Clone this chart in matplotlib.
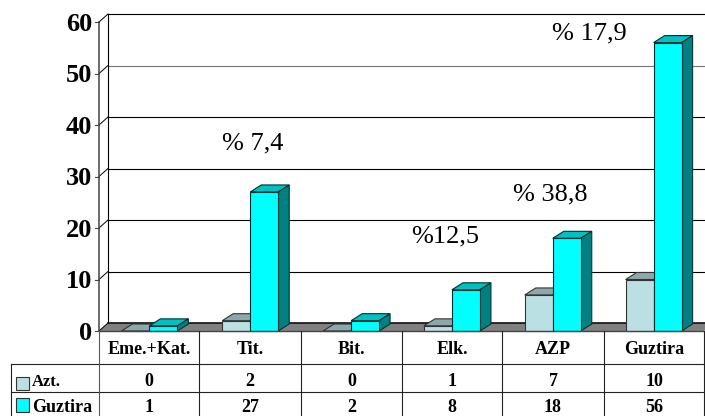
import matplotlib
matplotlib.use("Agg")
import matplotlib.pyplot as plt
from matplotlib.patches import Polygon, Rectangle

plt.rcParams['font.family'] = ['Liberation Serif', 'DejaVu Serif']

categories = ['Eme.+Kat.', 'Tit.', 'Bit.', 'Elk.', 'AZP', 'Guztira']
azt = [0, 2, 0, 1, 7, 10]
guztira = [1, 27, 2, 8, 18, 56]
yticks = [0, 10, 20, 30, 40, 50, 60]
notes = ['% 7,4', '%12,5', '% 38,8', '% 17,9']

W, H = 705, 416
fig = plt.figure(figsize=(W / 100, H / 100), dpi=100)

# page axes in pixels, used for the table and the free text
page = fig.add_axes([0, 0, 1, 1])
page.set_xlim(0, W)
page.set_ylim(H, 0)
page.axis('off')

# plot area in data units
L, R, B, T = 99, 704, 331, 22
ax = fig.add_axes([L / W, 1 - B / H, (R - L) / W, (B - T) / H])
ax.set_xlim(0, 6)
ax.set_ylim(0, 60)
ax.axis('off')
ax.patch.set_visible(False)

# depth of the fake 3d, in data units
wall_dx = 9 / ((R - L) / 6)
wall_dy = 8 / ((B - T) / 60)
bar_dx = 11 / ((R - L) / 6)
bar_dy = 7 / ((B - T) / 60)
bar_w = 28 / ((R - L) / 6)


def poly(pts, color, edge='black', lw=0.8, z=2):
    ax.add_patch(Polygon(pts, closed=True, facecolor=color, edgecolor=edge,
                         linewidth=lw, zorder=z, clip_on=False))


# floor
poly([(0, 0), (6, 0), (6 + wall_dx, wall_dy), (wall_dx, wall_dy)], '#808080', 'none', 0, 1)
ax.plot([wall_dx, 6.05], [wall_dy, wall_dy], color='#111111', lw=1.2, zorder=1.5, clip_on=False)

# back wall grid and left wall
for v in yticks[1:]:
    c = '#777777' if v == 50 else 'black'
    ax.plot([wall_dx, 6.05], [v + wall_dy, v + wall_dy], color=c, lw=0.8, zorder=1, clip_on=False)
for v in yticks:
    ax.plot([0, wall_dx], [v, v + wall_dy], color='black', lw=0.7, zorder=1, clip_on=False)
    ax.plot([-4 / ((R - L) / 6), 0], [v, v], color='#444444', lw=0.8, zorder=1, clip_on=False)
    ax.text(-7 / ((R - L) / 6), v, str(v), ha='right', va='center_baseline', fontsize=19,
            fontweight='bold', clip_on=False)
ax.plot([wall_dx, wall_dx], [wall_dy, 60 + wall_dy], color='black', lw=0.8, zorder=1, clip_on=False)
ax.plot([0, 0], [0, 60], color='#444444', lw=1.1, zorder=1.5, clip_on=False)
ax.plot([0, 6], [0, 0], color='#444444', lw=1.0, zorder=3, clip_on=False)


def bar3d(x, v, front, top, side, edge):
    poly([(x, v), (x + bar_w, v), (x + bar_w + bar_dx, v + bar_dy), (x + bar_dx, v + bar_dy)], top, edge)
    poly([(x + bar_w, 0), (x + bar_w + bar_dx, bar_dy), (x + bar_w + bar_dx, v + bar_dy), (x + bar_w, v)], side, edge)
    ax.bar(x, v, bar_w, align='edge', color=front, edgecolor=edge, linewidth=0.8, zorder=2.5, clip_on=False)


for i in range(len(categories)):
    bar3d(i + 0.5 - bar_w, azt[i], '#BBE0E3', '#8CA8AB', '#6F8F92', '#333333')
    bar3d(i + 0.5, guztira[i], '#00FFFF', '#00C0C0', '#008080', '#003333')

# table
col_x = [99, 199, 301, 402, 502, 604, 704]
row_y = [331, 364, 392, 416]
key_left = 11
line = '#222222'
page.plot([key_left, col_x[-1]], [row_y[1], row_y[1]], color=line, lw=0.8)
page.plot([key_left, col_x[-1]], [row_y[2], row_y[2]], color=line, lw=0.8)
page.plot([key_left, key_left], [row_y[1], row_y[3]], color=line, lw=0.8)
for x in col_x:
    page.plot([x, x], [row_y[0], row_y[3]], color='#555555' if x == 99 else line, lw=0.8)

for i, name in enumerate(categories):
    xc = (col_x[i] + col_x[i + 1]) / 2
    page.text(xc, 350, name, ha='center', va='center', fontsize=13, fontweight='bold')
    page.text(xc, 382, str(azt[i]), ha='center', va='center', fontsize=13, fontweight='bold')
    page.text(xc, 407, str(guztira[i]), ha='center', va='center', fontsize=13, fontweight='bold')

page.add_patch(Rectangle((16, 377), 13, 13, facecolor='#BBE0E3', edgecolor='#333333', lw=0.8))
page.add_patch(Rectangle((16, 398), 13, 14, facecolor='#00FFFF', edgecolor='#333333', lw=0.8))
page.text(32, 382, 'Azt.', ha='left', va='center', fontsize=12, fontweight='bold')
page.text(32, 407, 'Guztira', ha='left', va='center', fontsize=13, fontweight='bold')

# percentage notes
page.text(222, 143, notes[0], ha='left', va='center', fontsize=19)
page.text(411, 236, notes[1], ha='left', va='center', fontsize=19)
page.text(513, 194, notes[2], ha='left', va='center', fontsize=19)
page.text(552, 33, notes[3], ha='left', va='center', fontsize=19)
page.set_zorder(3)

fig.savefig('out.png', dpi=100)
